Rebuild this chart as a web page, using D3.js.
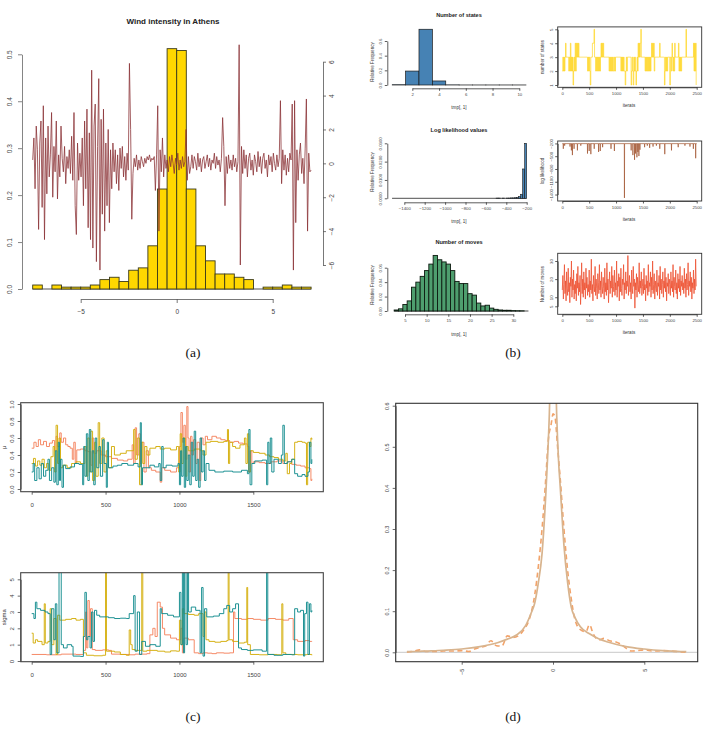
<!DOCTYPE html>
<html><head><meta charset="utf-8">
<script src="https://cdn.jsdelivr.net/npm/d3@7"></script>
<style>body{margin:0;background:#fff} text{font-family:"Liberation Sans",Arial,sans-serif}</style>
</head><body><svg id="c" width="705" height="729"></svg>
<script>
// ---------------- DATA ----------------
// (a) wind histogram (density per 0.5 bin, from -7.5 to 7.0)
const windBreaks = d3.range(-7.5, 7.01, 0.5);
const windDensity = [0.0085,0,0.0085,0.004,0.004,0.004,0.0085,0.02,0.025,0.016,0.04,0.045,0.092,0.213,0.512,0.508,0.213,0.092,0.06,0.032,0.032,0.025,0.02,0,0.004,0.004,0.0085,0.004,0.004];
const windTicksX = [-5,0,5];
const windTicksY = [0,0.1,0.2,0.3,0.4,0.5];
const windTicksY2 = [-6,-4,-2,0,2,4,6];
const windSeries = [
0.2,1.5,-1.5,2.2,0.8,-3.9,1.2,2.5,-2.6,3.4,-4.5,
1.5,-1.8,2.2,-0.8,0.5,3.0,-2.0,1.0,-0.5,2.5,
-2.1,0.5,-0.8,2.2,0.3,-0.5,1.0,-1.2,0.4,-0.3,
0.8,-0.6,1.6,-1.0,3.0,-2.5,-4.2,1.2,-1.0,0.6,-0.8,
1.5,-2.5,2.5,-1.5,3.2,-3.8,1.8,-4.5,5.5,-5.0,2.2,3.5,-5.8,1.0,5.0,-6.3,2.6,-3.0,3.2,-4.0,1.2,-2.5,2.0,-3.5,0.8,-1.5,
1.2,-0.5,0.8,-1.2,0.5,-1.6,0.9,-0.3,1.0,-0.8,0.4,-1.0,0.6,-0.4,5.9,2.0,-3.3,
-0.6,0.3,-0.2,0.5,-0.4,0.2,-0.3,0.4,0.1,-0.2,0.3,0.0,0.4,0.2,0.5,0.1,0.3,0.2,0.4,
-1.6,0.5,3.4,-4.0,0.8,-0.5,1.5,-0.8,0.5,
-0.3,0.2,-0.5,0.4,-0.2,0.5,0.0,-0.6,0.3,-0.1,0.6,-0.4,0.2,-0.3,0.4,-0.2,0.1,
2.0,-1.0,0.4,-0.6,
-0.2,0.5,-0.3,0.4,0.1,-0.4,0.6,-0.2,0.3,-0.5,0.2,0.4,-0.3,0.1,0.5,-0.2,0.3,-0.4,0.2,0.0,0.6,-0.3,0.4,-0.1,0.2,-0.5,
0.3,2.7,1.0,-2.5,0.4,-0.6,0.5,-0.3,
0.2,-0.4,0.5,-0.2,0.3,-0.5,0.1,
7.0,-6.0,1.0,
-0.6,0.8,-0.3,0.5,-0.8,0.3,0.6,-0.4,0.2,-0.7,0.5,0.1,-0.5,0.7,-0.2,0.4,-0.6,0.3,0.6,-0.3,0.2,-0.8,0.5,-0.1,0.4,-0.5,0.6,0.0,-0.4,0.5,-0.2,0.3,
3.7,-1.2,0.8,
-0.4,0.5,-0.7,0.3,-0.5,0.6,0.2,
3.5,-6.3,3.7,-3.5,
0.8,-1.0,0.5,1.2,-0.6,0.3,-1.2,0.9,3.8,-4.0,0.6,-0.5,-0.4];

// (b) number of states
const stateK = [1,2,3,4,5,6,7,8,9,10];
const stateFreq = [0.004,0.19,0.76,0.055,0.002,0.0006,0.0006,0.0006,0.0006,0.0006];
const stateTicksX = [2,4,6,8,10];
const stateTicksY = [0,0.2,0.4,0.6];
// state trace: one digit per 10 iterations
const stateTrace = ["2323234333","3323242323","1232424343","4333333333","3333333232",
"3213334445","3323232323","2343434333","3333333232","3232322323",
"3333333332","3232322123","2333333312","3213232123","2434345333",
"3333232323","2323234343","4233333333","3433333333","1232323333",
"1332432324","3333334232","3233333333","5333333333","3333424241"].join("");
const stateTraceTicksY = [1,2,3,4,5];
const iterTicks = [0,500,1000,1500,2000,2500];

// (b) log likelihood
const llBinStart = [-500,-480,-440,-400,-380,-360,-340,-320,-300,-280,-260,-240,-220];
const llDensity  = [0.0001,0.0001,0.0001,0.0001,0.0001,0.0002,0.0002,0.0003,0.0004,0.0009,0.0022,0.016,0.030];
const llRange = [-1520,-200];
const llTicksX = [-1400,-1200,-1000,-800,-600,-400,-200];
const llTicksY = [0,0.01,0.02,0.03];
const llMode = -205;
const llSpikes = [[19,-326],[44,-252],[144,-274],[169,-363],[188,-474],[219,-326],[281,-363],[344,-252],
[469,-437],[500,-378],[531,-452],[594,-326],[675,-400],[706,-378],[750,-289],[906,-326],[969,-378],
[1156,-1480],[1281,-363],[1313,-474],[1344,-585],[1363,-437],[1388,-526],[1406,-400],[1425,-496],[1444,-348],
[1531,-289],[1581,-252],[1625,-304],[1688,-274],[1750,-252],[1813,-326],[1906,-452],[2031,-363],
[2156,-289],[2281,-252],[2375,-274],[2438,-326],[2481,-548]];
const llTraceTicksY = [-1400,-1100,-800,-500,-200];

// (b) number of moves
const moveK = [3,4,5,6,7,8,9,10,11,12,13,14,15,16,17,18,19,20,21,22,23,24,25,26,27,28,29,30,31,32];
const moveFreq = [0.0014,0.003,0.009,0.014,0.033,0.040,0.048,0.056,0.065,0.077,0.071,0.068,0.065,0.056,0.041,0.038,0.038,0.024,0.022,0.011,0.007,0.008,0.004,0.0023,0.0014,0.001,0.001,0.0005,0.0003,0.0002];
const moveTicksX = [5,10,15,20,25,30];
const moveTicksY = [0,0.02,0.04,0.06];
// move trace: one value per 10 iterations
const moveTrace = [
14,22,9,17,28,12,19,8,24,15,11,26,13,18,7,21,16,30,10,20,14,25,9,17,12,
19,8,23,15,27,11,18,13,22,6,16,29,12,20,10,24,14,18,9,26,15,21,11,17,13,
25,10,19,14,31,12,17,8,22,16,13,27,11,20,15,9,23,18,12,28,14,19,10,24,16,
12,21,15,9,26,13,18,11,29,14,20,7,17,24,12,19,15,27,10,22,16,13,25,11,18,
14,30,10,19,16,23,8,21,13,26,15,11,20,17,28,9,18,14,24,12,19,16,33,11,17,
22,13,18,9,25,15,12,27,16,20,4,18,14,23,10,21,17,13,29,12,19,15,24,11,16,
20,12,26,14,17,8,22,15,19,11,28,13,18,16,24,10,21,14,30,12,17,23,9,19,15,
13,25,11,18,16,22,9,27,14,20,12,17,24,10,19,15,26,13,21,8,18,16,23,12,20,
17,11,24,15,19,13,28,10,21,16,14,25,12,18,9,23,15,20,13,27,11,19,16,22,14,
18,12,26,15,20,10,23,14,17,29,11,19,16,24,13,21,9,18,15,25,12,20,14,31,16];
const moveTraceTicksY = [5,10,20,30];

// (c) mu traces [iteration, value]
const muCoral = [[0,0.48],[15,0.55],[30,0.5],[45,0.58],[60,0.52],[80,0.56],[100,0.5],[120,0.54],[140,0.57],[155,0.45],[165,0.62],[175,0.5],[190,0.66],[200,0.55],[215,0.6],[230,0.52],[245,0.5],[260,0.48],[275,0.35],[285,0.55],[295,0.3],[305,0.46],[330,0.47],[360,0.45],[380,0.44],[400,0.28],[410,0.6],[420,0.42],[440,0.45],[470,0.4],[500,0.38],[540,0.36],[580,0.34],[620,0.33],[650,0.35],[680,0.52],[690,0.3],[700,0.72],[710,0.4],[725,0.65],[735,0.3],[745,0.55],[760,0.2],[775,0.45],[790,0.25],[810,0.22],[840,0.2],[870,0.08],[880,0.25],[900,0.22],[940,0.2],[980,0.25],[1000,0.5],[1010,0.9],[1020,0.55],[1030,0.75],[1040,0.35],[1050,0.97],[1058,0.6],[1065,0.2],[1075,0.62],[1085,0.4],[1095,0.58],[1110,0.3],[1120,0.55],[1135,0.1],[1145,0.6],[1160,0.52],[1175,0.62],[1190,0.58],[1220,0.62],[1250,0.6],[1280,0.58],[1310,0.57],[1340,0.55],[1370,0.56],[1400,0.54],[1430,0.53],[1460,0.5],[1470,0.2],[1480,0.45],[1490,0.3],[1500,0.32],[1540,0.31],[1580,0.3],[1620,0.32],[1660,0.33],[1700,0.3],[1730,0.32],[1760,0.29],[1790,0.28],[1820,0.27],[1850,0.25],[1880,0.24],[1890,0.1],[1896,0.12]];
const muGold = [[0,0.3],[12,0.36],[25,0.27],[40,0.33],[55,0.28],[70,0.35],[85,0.25],[100,0.3],[115,0.22],[130,0.38],[145,0.5],[155,0.2],[165,0.75],[175,0.3],[185,0.6],[195,0.25],[210,0.28],[240,0.25],[270,0.3],[300,0.32],[330,0.3],[360,0.5],[370,0.15],[380,0.6],[390,0.2],[400,0.68],[412,0.1],[425,0.55],[435,0.15],[450,0.78],[460,0.3],[475,0.6],[490,0.2],[505,0.45],[520,0.25],[540,0.5],[560,0.4],[600,0.42],[640,0.45],[690,0.7],[700,0.35],[715,0.6],[730,0.05],[742,0.55],[752,0.3],[765,0.5],[780,0.4],[800,0.48],[840,0.5],[870,0.47],[900,0.48],[940,0.46],[980,0.5],[995,0.2],[1005,0.65],[1015,0.3],[1025,0.6],[1040,0.15],[1050,0.5],[1060,0.45],[1100,0.47],[1140,0.45],[1160,0.4],[1180,0.55],[1210,0.56],[1260,0.55],[1300,0.56],[1325,0.7],[1332,0.3],[1340,0.55],[1360,0.5],[1380,0.48],[1410,0.52],[1440,0.6],[1450,0.3],[1460,0.65],[1470,0.2],[1480,0.45],[1500,0.43],[1540,0.42],[1580,0.4],[1610,0.38],[1640,0.37],[1670,0.35],[1700,0.33],[1720,0.42],[1730,0.18],[1745,0.3],[1760,0.35],[1780,0.55],[1800,0.56],[1830,0.55],[1850,0.54],[1860,0.05],[1868,0.55],[1880,0.5],[1890,0.6],[1896,0.58]];
const muTeal = [[0,0.2],[10,0.3],[20,0.1],[35,0.25],[50,0.12],[65,0.3],[80,0.15],[95,0.22],[110,0.35],[120,0.1],[135,0.25],[150,0.08],[160,0.45],[170,0.05],[180,0.55],[188,0.1],[195,0.35],[205,0.02],[215,0.28],[230,0.24],[260,0.26],[290,0.3],[320,0.29],[345,0.05],[352,0.5],[360,0.15],[370,0.65],[380,0.1],[390,0.7],[400,0.2],[410,0.45],[420,0.05],[430,0.6],[440,0.25],[455,0.5],[465,0.15],[480,0.58],[490,0.3],[505,0.02],[512,0.55],[520,0.25],[550,0.27],[580,0.28],[610,0.3],[650,0.28],[690,0.3],[720,0.26],[735,0.78],[742,0.05],[750,0.25],[800,0.28],[830,0.26],[860,0.3],[870,0.1],[880,0.5],[890,0.25],[910,0.28],[950,0.27],[990,0.3],[1000,0.05],[1008,0.45],[1015,0.15],[1025,0.6],[1033,0.02],[1042,0.5],[1050,0.1],[1060,0.4],[1070,0.05],[1080,0.55],[1090,0.15],[1100,0.68],[1110,0.1],[1120,0.35],[1130,0.02],[1140,0.6],[1150,0.2],[1160,0.45],[1170,0.1],[1180,0.3],[1200,0.22],[1240,0.2],[1300,0.21],[1360,0.2],[1420,0.22],[1460,0.18],[1470,0.7],[1478,0.05],[1490,0.3],[1510,0.33],[1560,0.34],[1590,0.05],[1598,0.55],[1606,0.3],[1615,0.6],[1625,0.2],[1640,0.35],[1670,0.3],[1690,0.4],[1700,0.75],[1710,0.3],[1730,0.32],[1760,0.35],[1780,0.18],[1800,0.15],[1830,0.17],[1850,0.15],[1870,0.2],[1880,0.55],[1890,0.3],[1896,0.35]];
// (c) sigma traces
const sdCoral = [[0,0.4],[100,0.38],[200,0.42],[300,0.4],[350,0.65],[365,3.0],[372,0.8],[380,3.7],[390,1.5],[398,3.2],[410,0.7],[430,0.65],[480,0.68],[520,0.65],[540,0.42],[600,0.4],[660,0.38],[700,0.42],[780,0.45],[800,1.6],[820,2.0],[835,1.5],[850,3.6],[870,3.3],[885,2.0],[900,1.6],[940,1.4],[980,1.3],[1010,2.0],[1020,0.5],[1030,1.4],[1060,1.3],[1100,0.5],[1130,0.45],[1160,0.5],[1190,0.48],[1220,0.45],[1250,0.5],[1300,0.48],[1340,0.5],[1366,3.0],[1375,2.6],[1420,2.55],[1460,2.6],[1500,2.55],[1550,2.5],[1600,2.6],[1650,2.55],[1700,2.5],[1740,2.6],[1770,1.3],[1800,1.2],[1850,1.25],[1880,1.2],[1896,1.22]];
const sdGold = [[0,1.7],[10,1.1],[25,1.3],[40,1.2],[70,1.0],[85,3.5],[92,1.1],[110,1.2],[125,3.2],[135,1.0],[150,2.6],[165,0.4],[175,2.8],[190,2.5],[230,2.55],[270,2.6],[300,2.5],[330,2.55],[350,0.5],[370,0.35],[420,0.32],[480,0.35],[500,5.6],[506,0.6],[560,0.55],[600,0.4],[640,0.35],[660,1.9],[670,1.0],[680,0.7],[700,0.65],[745,5.6],[752,0.6],[780,0.65],[850,0.6],[900,0.55],[940,0.62],[980,0.6],[1000,2.5],[1010,1.0],[1020,3.2],[1030,2.9],[1060,2.85],[1100,2.8],[1130,2.9],[1160,1.5],[1170,3.0],[1180,1.3],[1200,1.2],[1240,1.15],[1280,1.2],[1320,1.25],[1330,5.6],[1336,1.3],[1360,1.2],[1400,1.1],[1440,1.15],[1456,4.5],[1462,1.0],[1480,0.4],[1540,0.38],[1600,0.4],[1660,0.38],[1693,3.5],[1700,0.5],[1720,0.4],[1800,0.38],[1860,0.4],[1896,0.35]];
const sdTeal = [[0,2.9],[15,2.6],[25,3.6],[35,3.2],[60,3.1],[90,3.0],[110,2.9],[125,0.4],[135,3.2],[150,1.3],[160,3.5],[170,0.5],[185,5.6],[200,1.0],[215,0.8],[240,1.0],[270,0.9],[280,0.3],[330,0.28],[350,1.5],[360,4.2],[370,1.3],[380,1.5],[395,0.8],[405,3.0],[415,1.2],[425,3.1],[440,2.8],[460,2.7],[520,2.65],[560,2.6],[600,2.62],[640,2.6],[660,2.9],[690,4.0],[700,0.6],[715,3.0],[730,0.4],[745,1.2],[770,0.9],[800,1.0],[840,0.9],[870,3.2],[880,2.9],[920,2.8],[960,2.7],[1000,4.2],[1010,1.0],[1020,5.6],[1028,0.5],[1035,5.6],[1045,1.0],[1055,5.6],[1062,3.0],[1080,3.3],[1110,3.1],[1140,0.5],[1150,4.5],[1160,0.3],[1170,3.2],[1185,2.7],[1230,2.75],[1270,2.9],[1300,3.2],[1320,3.4],[1340,3.0],[1360,3.2],[1380,3.5],[1400,0.8],[1420,0.7],[1460,0.65],[1500,0.68],[1560,0.6],[1590,5.6],[1598,0.4],[1640,0.35],[1700,0.4],[1760,0.38],[1780,3.2],[1800,3.0],[1820,3.1],[1840,0.3],[1848,2.9],[1860,3.6],[1870,0.4],[1880,3.5],[1890,3.0],[1896,3.1]];
const cTicksX = [0,500,1000,1500];
const muTicksY = [0,0.2,0.4,0.6,0.8,1.0];
const sdTicksY = [0,1,2,3,4,5];

// (d) fitted density (solid) and kernel estimate (dashed)
const fitX = [-8,-7.5,-7,-6,-5,-4,-3,-2.5,-2,-1.5,-1.2,-1,-0.8,-0.6,-0.4,-0.3,-0.2,-0.1,0,0.1,0.2,0.3,0.4,0.6,0.8,1,1.2,1.5,2,2.5,3,4,5,6,7,7.3];
const fitY = [0.0015,0.002,0.003,0.005,0.008,0.014,0.024,0.032,0.042,0.065,0.095,0.12,0.17,0.24,0.38,0.47,0.58,0.75,0.85,0.75,0.58,0.47,0.4,0.26,0.17,0.11,0.085,0.062,0.045,0.033,0.025,0.014,0.008,0.004,0.002,0.0015];
const kdeX = [-8,-7.6,-7.3,-7,-6.5,-6,-5.5,-5,-4.6,-4.3,-4,-3.7,-3.4,-3.1,-2.8,-2.5,-2.2,-1.9,-1.6,-1.3,-1,-0.8,-0.6,-0.4,-0.25,-0.1,0,0.1,0.25,0.4,0.6,0.8,1,1.2,1.5,1.8,2,2.2,2.5,2.8,3.1,3.4,3.7,4,4.3,4.6,5,5.5,6,6.5,7,7.3];
const kdeY = [0,0.003,0.006,0.002,0.002,0.003,0.003,0.004,0.002,0.008,0.012,0.015,0.028,0.016,0.015,0.04,0.036,0.04,0.055,0.08,0.14,0.21,0.3,0.42,0.52,0.555,0.58,0.575,0.5,0.42,0.3,0.2,0.13,0.08,0.055,0.05,0.067,0.045,0.03,0.034,0.028,0.026,0.02,0.01,0.003,0.004,0.006,0.003,0.004,0.003,0.001,0];
const dTicksX = [-5,0,5];
const dTicksY = [0,0.1,0.2,0.3,0.4,0.5,0.6];

// ---------------- HELPERS ----------------
const svg = d3.select("#c");
svg.append("rect").attr("width",705).attr("height",729).attr("fill","#fff");

function rAxis(g, orient, scale, ticks, pos, o) {
  const ext = d3.extent(ticks);
  const s = scale.copy().domain(ext).range(ext.map(scale));
  const gen = orient === "left" ? d3.axisLeft(s) : orient === "right" ? d3.axisRight(s) : d3.axisBottom(s);
  gen.tickValues(ticks).tickSize(o.tl).tickSizeOuter(0).tickPadding(o.pad).tickFormat(o.fmt || (d => String(d).replace("-", "\u2212")));
  const a = g.append("g")
    .attr("transform", orient === "bottom" ? `translate(0,${pos})` : `translate(${pos},0)`)
    .call(gen).attr("font-size", null).attr("font-family", null);
  a.selectAll("path,line").attr("stroke", o.color || "#444").attr("stroke-width", o.sw || 0.8);
  const t = a.selectAll("text").attr("fill", o.tc || "#444").style("font-size", o.fs + "px")
    .style("font-family", '"Liberation Sans",Arial,sans-serif');
  const d = o.tl + o.pad;
  if (o.rot && orient === "left") t.attr("transform", "rotate(-90)").attr("x", 0).attr("y", -d).attr("dy", 0).attr("text-anchor", "middle");
  if (o.rot && orient === "right") t.attr("transform", "rotate(-90)").attr("x", 0).attr("y", d).attr("dy", "0.75em").attr("text-anchor", "middle");
  if (o.rot && orient === "bottom") t.attr("transform", "rotate(-90)").attr("x", -d).attr("y", 0).attr("dy", "0.35em").attr("text-anchor", "end");
  return a;
}
function label(g, x, y, txt, fs, opts = {}) {
  const t = g.append("text").attr("x", x).attr("y", y).attr("text-anchor", "middle")
    .style("font-size", fs + "px").attr("fill", opts.fill || "#222").text(txt);
  if (opts.bold) t.attr("font-weight", "bold");
  if (opts.rot) t.attr("transform", `rotate(-90,${x},${y})`);
  if (opts.family) t.style("font-family", opts.family);
  return t;
}
let clipId = 0;
function clip(g, x0, y0, x1, y1) {
  const id = "clip" + (clipId++);
  g.append("clipPath").attr("id", id).append("rect").attr("x", x0).attr("y", y0).attr("width", x1 - x0).attr("height", y1 - y0);
  return "url(#" + id + ")";
}

// ---------------- PANEL (a) ----------------
{
  const g = svg.append("g");
  const x = d3.scaleLinear().domain([-5, 5]).range([80.7, 272.7]);
  const y = d3.scaleLinear().domain([0, 0.5]).range([289, 54.3]);
  const y2 = d3.scaleLinear().domain([-6, 6]).range([265, 61.7]);
  const bins = windDensity.map((v, i) => ({ x0: windBreaks[i], x1: windBreaks[i + 1], v }));
  g.append("line").attr("x1", x(-7.5)).attr("x2", x(7)).attr("y1", y(0)).attr("y2", y(0)).attr("stroke", "#555").attr("stroke-width", 1);
  g.selectAll("rect.b").data(bins.filter(b => b.v > 0)).join("rect").attr("class", "b")
    .attr("x", b => x(b.x0)).attr("width", b => x(b.x1) - x(b.x0))
    .attr("y", b => y(b.v)).attr("height", b => y(0) - y(b.v))
    .attr("fill", "#FFD700").attr("stroke", "#3a3a1a").attr("stroke-width", 0.9);
  const xi = d3.scaleLinear().domain([0, windSeries.length - 1]).range([x(-7.5), x(7)]);
  g.append("path").datum(windSeries).attr("fill", "none").attr("stroke", "#8B3236").attr("stroke-width", 1)
    .attr("stroke-opacity", 0.78).attr("stroke-linejoin", "round")
    .attr("d", d3.line().x((d, i) => xi(i)).y(d => y2(d)));
  rAxis(g, "left", y, windTicksY, 22, { tl: 4, pad: 6, fs: 6.5, rot: true, fmt: d3.format(".1f"), color: "#666" });
  rAxis(g, "bottom", x, windTicksX, 299, { tl: 4, pad: 6, fs: 6.5, color: "#555" });
  rAxis(g, "right", y2, windTicksY2, 323, { tl: 3, pad: 3, fs: 6.5, rot: true, color: "#555" });
  label(g, 173, 24, "Wind intensity in Athens", 8, { bold: true });
}

// ---------------- PANEL (b) ----------------
const xIter = d3.scaleLinear().domain([0, 2500]).range([562.3, 696.7]);
const bFs = 4.3, bLab = 4.6, bTitle = 5.6;
function bHistAxes(g, x, y, ticksX, ticksY, axisY, fmtY) {
  rAxis(g, "left", y, ticksY, 387.3, { tl: 2.5, pad: 2.5, fs: bFs, rot: true, fmt: fmtY, color: "#333" });
  rAxis(g, "bottom", x, ticksX, axisY, { tl: 2.5, pad: 2.5, fs: bFs, color: "#333" });
}
function bTraceBox(g, y0, y1, y, ticksY) {
  g.append("rect").attr("x", 557.7).attr("y", y0).attr("width", 144).attr("height", y1 - y0)
    .attr("fill", "none").attr("stroke", "#333").attr("stroke-width", 0.9);
  rAxis(g, "left", y, ticksY, 557.7, { tl: 2.5, pad: 2.5, fs: bFs, rot: true, color: "#333" });
  rAxis(g, "bottom", xIter, iterTicks, y1, { tl: 2.5, pad: 2.5, fs: bFs, color: "#333" });
  label(g, 629, y1 + 20, "iterats", bLab, { fill: "#333" });
}
{ // states
  const g = svg.append("g");
  const x = d3.scaleLinear().domain([2, 10]).range([412.3, 519.3]);
  const y = d3.scaleLinear().domain([0, 0.6]).range([85, 41]);
  g.selectAll("rect").data(stateK.map((k, i) => ({ k, v: stateFreq[i] }))).join("rect")
    .attr("x", d => x(d.k - 0.5)).attr("width", d => x(d.k + 0.5) - x(d.k - 0.5))
    .attr("y", d => y(d.v)).attr("height", d => y(0) - y(d.v))
    .attr("fill", "#4682B4").attr("stroke", "#1b1b1b").attr("stroke-width", 0.7);
  bHistAxes(g, x, y, stateTicksX, stateTicksY, 88.3, d3.format(".1f"));
  label(g, 459, 16.5, "Number of states", bTitle, { bold: true });
  label(g, 459, 108.5, "tmp[, 1]", bLab, { fill: "#333" });
  label(g, 374, 62, "Relative Frequency", bLab, { rot: true, fill: "#333" });
  const yt = d3.scaleLinear().domain([1, 5]).range([85, 29.3]);
  g.append("path").datum(stateTrace.split("").map(Number)).attr("fill", "none").attr("stroke", "#FFD000")
    .attr("stroke-opacity", 0.7).attr("stroke-width", 0.85)
    .attr("d", d3.line().curve(d3.curveStepAfter).x((d, i) => xIter(i * 10)).y(d => yt(d)));
  bTraceBox(g, 26.9, 87.3, yt, stateTraceTicksY);
  label(g, 544, 57, "number of states", bLab, { rot: true, fill: "#333" });
}
{ // log likelihood
  const g = svg.append("g");
  const x = d3.scaleLinear().domain([-1400, -200]).range([404.3, 526.7]);
  const y = d3.scaleLinear().domain([0, 0.03]).range([198.3, 143.3]);
  g.append("line").attr("x1", x(llRange[0])).attr("x2", x(llRange[1])).attr("y1", y(0)).attr("y2", y(0)).attr("stroke", "#222").attr("stroke-width", 0.8);
  g.selectAll("rect").data(llBinStart.map((s, i) => ({ s, v: llDensity[i] }))).join("rect")
    .attr("x", d => x(d.s)).attr("width", d => x(d.s + 20) - x(d.s))
    .attr("y", d => y(d.v)).attr("height", d => y(0) - y(d.v))
    .attr("fill", "#4682B4").attr("stroke", "#1b1b1b").attr("stroke-width", 0.6);
  bHistAxes(g, x, y, llTicksX, llTicksY, 202.3, d3.format(".4f"));
  label(g, 459, 131.5, "Log likelihood values", bTitle, { bold: true });
  label(g, 459, 222.5, "tmp[, 1]", bLab, { fill: "#333" });
  label(g, 374, 172, "Relative Frequency", bLab, { rot: true, fill: "#333" });
  const yt = d3.scaleLinear().domain([-1552, -143]).range([201, 141]);
  const pts = [[0, llMode]];
  llSpikes.forEach(([it, v]) => { pts.push([it - 3, llMode], [it, v], [it + 3, llMode]); });
  pts.push([2500, llMode]);
  g.append("path").datum(pts).attr("fill", "none").attr("stroke", "#A0522D").attr("stroke-opacity", 0.85)
    .attr("stroke-width", 0.8).attr("d", d3.line().x(d => xIter(d[0])).y(d => yt(d[1])));
  bTraceBox(g, 141, 201, yt, llTraceTicksY);
  label(g, 544, 171, "log likelihood", bLab, { rot: true, fill: "#333" });
}
{ // moves
  const g = svg.append("g");
  const x = d3.scaleLinear().domain([5, 30]).range([405, 513.3]);
  const y = d3.scaleLinear().domain([0, 0.06]).range([311, 267.7]);
  g.append("line").attr("x1", x(2.5)).attr("x2", x(33.5)).attr("y1", y(0)).attr("y2", y(0)).attr("stroke", "#222").attr("stroke-width", 0.8);
  g.selectAll("rect").data(moveK.map((k, i) => ({ k, v: moveFreq[i] }))).join("rect")
    .attr("x", d => x(d.k - 0.5)).attr("width", d => x(d.k + 0.5) - x(d.k - 0.5))
    .attr("y", d => y(d.v)).attr("height", d => y(0) - y(d.v))
    .attr("fill", "#4E9E6E").attr("stroke", "#0d1a10").attr("stroke-width", 0.9);
  bHistAxes(g, x, y, moveTicksX, moveTicksY, 314.3, d3.format(".2f"));
  label(g, 459, 243.5, "Number of moves", bTitle, { bold: true });
  label(g, 459, 335.5, "tmp[, 1]", bLab, { fill: "#333" });
  label(g, 374, 285, "Relative Frequency", bLab, { rot: true, fill: "#333" });
  const yt = d3.scaleLinear().domain([5, 30]).range([306.3, 261]);
  g.append("path").datum(moveTrace).attr("fill", "none").attr("stroke", "#EE5233").attr("stroke-opacity", 0.95)
    .attr("stroke-width", 0.85).attr("d", d3.line().x((d, i) => xIter(i * 10)).y(d => yt(d)));
  bTraceBox(g, 253.3, 314.3, yt, moveTraceTicksY);
  label(g, 544, 284, "Number of moves", bLab, { rot: true, fill: "#333" });
}

// ---------------- PANEL (c) ----------------
const xC = d3.scaleLinear().domain([0, 1500]).range([31.7, 253.3]);
const cColors = ["#F4845F", "#D4AE0B", "#138C8E"];
function cPanel(y0, y1, y, series, ticksY, fmt, ylab) {
  const g = svg.append("g");
  const cp = clip(g, 20.7, y0, 323.3, y1);
  const lg = g.append("g").attr("clip-path", cp);
  series.forEach((s, i) => {
    lg.append("path").datum(s).attr("fill", "none").attr("stroke", cColors[i]).attr("stroke-width", 1)
      .attr("stroke-opacity", 0.95)
      .attr("d", d3.line().curve(d3.curveStepAfter).x(d => xC(d[0])).y(d => y(d[1])));
  });
  g.append("rect").attr("x", 20.7).attr("y", y0).attr("width", 302.6).attr("height", y1 - y0)
    .attr("fill", "none").attr("stroke", "#444").attr("stroke-width", 1.1);
  rAxis(g, "left", y, ticksY, 20.7, { tl: 3, pad: 3.5, fs: 6, rot: true, fmt, color: "#444" });
  rAxis(g, "bottom", xC, cTicksX, y1, { tl: 3, pad: 8, fs: 6, color: "#444" });
  label(g, 6.5, (y0 + y1) / 2, ylab, 6, { rot: true, fill: "#333" });
}
cPanel(402.7, 491.7, d3.scaleLinear().domain([0, 1]).range([489, 404]), [muCoral, muGold, muTeal], muTicksY, d3.format(".1f"), "\u03bc");
cPanel(572.7, 661.7, d3.scaleLinear().domain([0, 5]).range([661, 579.3]), [sdCoral, sdGold, sdTeal], sdTicksY, d => d, "sigma");

// ---------------- PANEL (d) ----------------
{
  const g = svg.append("g");
  const x = d3.scaleLinear().domain([-5, 5]).range([461.7, 644.3]);
  const y = d3.scaleLinear().domain([0, 0.6]).range([652.3, 405.7]);
  const cp = clip(g, 395.7, 403.3, 697.7, 661.7);
  const lg = g.append("g").attr("clip-path", cp);
  lg.append("line").attr("x1", 395.7).attr("x2", 697.7).attr("y1", y(0)).attr("y2", y(0)).attr("stroke", "#c8c8c8").attr("stroke-width", 1);
  lg.append("path").datum(kdeX.map((v, i) => [v, kdeY[i]])).attr("fill", "none").attr("stroke", "#F2A36A")
    .attr("stroke-width", 1.6).attr("stroke-dasharray", "5,3.5")
    .attr("d", d3.line().curve(d3.curveMonotoneX).x(d => x(d[0])).y(d => y(d[1])));
  lg.append("path").datum(fitX.map((v, i) => [v, fitY[i]])).attr("fill", "none").attr("stroke", "#D8B48E")
    .attr("stroke-width", 1.7)
    .attr("d", d3.line().curve(d3.curveMonotoneX).x(d => x(d[0])).y(d => y(d[1])));
  g.append("rect").attr("x", 395.7).attr("y", 403.3).attr("width", 302).attr("height", 258.4)
    .attr("fill", "none").attr("stroke", "#333").attr("stroke-width", 1.1);
  rAxis(g, "left", y, dTicksY, 395.7, { tl: 3, pad: 4, fs: 5.5, rot: true, fmt: d3.format(".1f"), color: "#444" });
  rAxis(g, "bottom", x, dTicksX, 661.7, { tl: 3, pad: 4, fs: 5.5, rot: true, color: "#444" });
}

// ---------------- CAPTIONS ----------------
const capFont = '"Liberation Serif","DejaVu Serif",serif';
[["(a)", 193, 357], ["(b)", 513, 357], ["(c)", 193, 721], ["(d)", 513, 721]].forEach(([t, x, y]) =>
  label(svg, x, y, t, 13.5, { family: capFont, fill: "#111" }));
</script></body></html>
